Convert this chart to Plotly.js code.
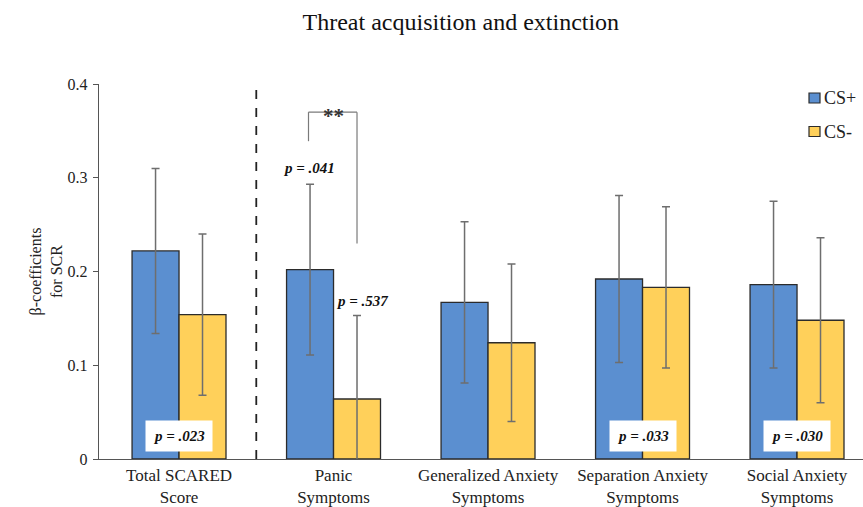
<!DOCTYPE html>
<html>
<head>
<meta charset="utf-8">
<script src="https://cdn.plot.ly/plotly-3.0.1.min.js"></script>
<style>html,body{margin:0;padding:0;background:#fff;}#chart{width:863px;height:507px;}</style>
</head>
<body>
<div id="chart"></div>
<script>
const categories = ["Total SCARED<br>Score", "Panic<br>Symptoms", "Generalized Anxiety<br>Symptoms", "Separation Anxiety<br>Symptoms", "Social Anxiety<br>Symptoms"];
const seriesNames = ["CS+", "CS-"];
const csPlus = [0.222, 0.202, 0.167, 0.192, 0.186];
const csPlusErr = [0.088, 0.091, 0.086, 0.089, 0.089];
const csMinus = [0.154, 0.064, 0.124, 0.183, 0.148];
const csMinusErr = [0.086, 0.089, 0.084, 0.086, 0.088];
const yTicks = [0, 0.1, 0.2, 0.3, 0.4];
const yTickText = ["0", "0.1", "0.2", "0.3", "0.4"];
const pBoxLabels = [{cat: 0, text: "p = .023"}, {cat: 3, text: "p = .033"}, {cat: 4, text: "p = .030"}];
const panicLabels = [{text: "p = .041", dx: -0.162, y: 0.310}, {text: "p = .537", dx: 0.185, y: 0.169}];

const colors = ['#5b8fd0', '#ffd05a'];
const serif = "Liberation Serif, Times New Roman, serif";
const errStyle = {type: 'data', visible: true, color: '#6e6e6e', thickness: 1.5, width: 4};

const traces = [
  {type: 'bar', name: seriesNames[0], x: categories, y: csPlus, showlegend: false,
   error_y: Object.assign({array: csPlusErr}, errStyle),
   marker: {color: colors[0], line: {color: '#2b2b2b', width: 1.3}}},
  {type: 'bar', name: seriesNames[1], x: categories, y: csMinus, showlegend: false,
   error_y: Object.assign({array: csMinusErr}, errStyle),
   marker: {color: colors[1], line: {color: '#2b2b2b', width: 1.3}}}
];

const annotations = [];
pBoxLabels.forEach(p => annotations.push({
  x: p.cat, y: 0.025, xref: 'x', yref: 'y', text: '<b><i>' + p.text + '</i></b>',
  showarrow: false, bgcolor: '#ffffff', borderpad: 7, xanchor: 'center', yanchor: 'middle',
  font: {family: serif, size: 15, color: '#111'}
}));
panicLabels.forEach(p => annotations.push({
  x: 1 + p.dx, y: p.y, xref: 'x', yref: 'y', text: '<b><i>' + p.text + '</i></b>',
  showarrow: false, xanchor: 'center', yanchor: 'middle',
  font: {family: serif, size: 15, color: '#111'}
}));
annotations.push({x: 1, y: 0.366, xref: 'x', yref: 'y', text: '<b>**</b>', showarrow: false,
  xanchor: 'center', yanchor: 'middle', font: {family: serif, size: 21, color: '#333'}});

const bl = 1 - 0.162, br = 1 + 0.152;
const shapes = [
  {type: 'line', xref: 'x', yref: 'y', x0: 0.5, x1: 0.5, y0: 0, y1: 0.394, line: {color: '#222', width: 1.8, dash: 'dash'}},
  {type: 'line', xref: 'x', yref: 'y', x0: bl, x1: bl, y0: 0.339, y1: 0.370, line: {color: '#7a7a7a', width: 1.2}},
  {type: 'line', xref: 'x', yref: 'y', x0: bl, x1: br, y0: 0.370, y1: 0.370, line: {color: '#7a7a7a', width: 1.2}},
  {type: 'line', xref: 'x', yref: 'y', x0: br, x1: br, y0: 0.370, y1: 0.230, line: {color: '#7a7a7a', width: 1.2}}
];

// manual legend (paper coordinates: plot area spans x 99..863, y 84..459)
const W = 764, H = 375;
const px = v => (v - 99) / W;
const py = v => (459 - v) / H;
seriesNames.forEach((name, i) => {
  const cy = 98 + i * 33.5;
  shapes.push({type: 'rect', xref: 'paper', yref: 'paper', x0: px(809), x1: px(820), y0: py(cy - 5), y1: py(cy + 5),
    fillcolor: colors[i], line: {color: '#2b2b2b', width: 1.2}});
  annotations.push({x: px(822), y: py(cy), xref: 'paper', yref: 'paper', text: name, showarrow: false,
    xanchor: 'left', yanchor: 'middle', font: {family: serif, size: 18, color: '#222'}});
});

const layout = {
  width: 863, height: 507,
  margin: {l: 99, r: 0, t: 84, b: 48, autoexpand: false},
  paper_bgcolor: '#ffffff', plot_bgcolor: '#ffffff',
  font: {family: serif, size: 16, color: '#222'},
  showlegend: false,
  title: {text: 'Threat acquisition and extinction', x: 0.534, xanchor: 'center', y: 0.958, yanchor: 'middle',
          font: {family: serif, size: 24, color: '#111'}, automargin: false},
  barmode: 'group', bargap: 0.392, bargroupgap: 0,
  xaxis: {type: 'category', range: [-0.518, 4.427], showline: true, linecolor: '#555', linewidth: 1.3, automargin: false,
          ticks: '', showgrid: false, zeroline: false, tickfont: {family: serif, size: 17, color: '#222'}},
  yaxis: {range: [0, 0.4], tickvals: yTicks, ticktext: yTickText, showline: true, linecolor: '#555', linewidth: 1.3,
          automargin: false, ticks: 'outside', ticklen: 5, tickcolor: '#555', showgrid: false, zeroline: false,
          ticklabelstandoff: 2,
          tickfont: {family: serif, size: 16, color: '#222'},
          title: {text: 'β-coefficients<br>for SCR', standoff: 1, font: {family: serif, size: 16, color: '#222'}}},
  annotations: annotations,
  shapes: shapes
};

Plotly.newPlot('chart', traces, layout, {displayModeBar: false, staticPlot: true});
</script>
</body>
</html>
